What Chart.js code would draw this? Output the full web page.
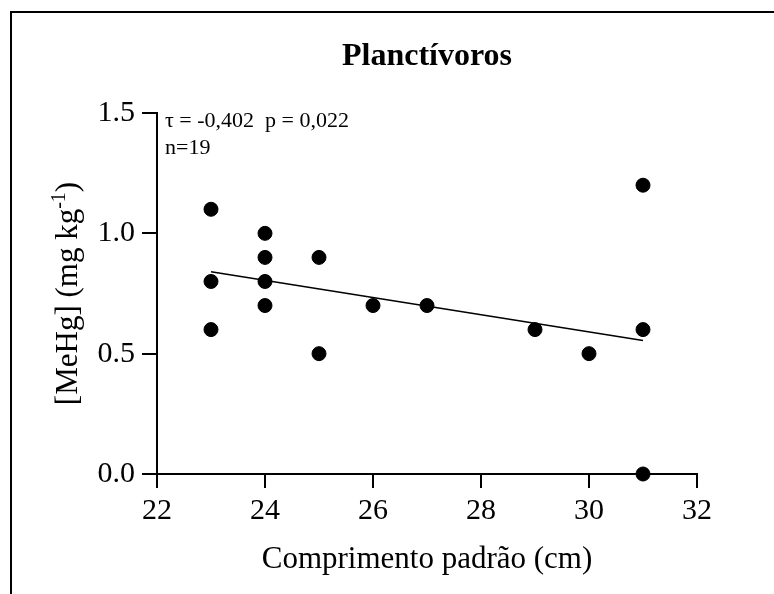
<!DOCTYPE html>
<html>
<head>
<meta charset="utf-8">
<script src="https://cdn.jsdelivr.net/npm/chart.js@4"></script>
<style>
  body { margin: 0; background: #fff; }
  canvas { display: block; }
</style>
</head>
<body>
<canvas id="chart" width="774" height="594"></canvas>
<script>
// Data
const lengthCm = [23, 23, 23, 24, 24, 24, 24, 25, 25, 26, 27, 29, 30, 31, 31, 31];
const mehg = [1.1, 0.8, 0.6, 1.0, 0.9, 0.8, 0.7, 0.9, 0.5, 0.7, 0.7, 0.6, 0.5, 1.2, 0.6, 0.0];
const fitX = [23, 31];
const fitY = [0.84, 0.555];
const xTicks = [22, 24, 26, 28, 30, 32];
const yTicks = [0, 0.5, 1.0, 1.5];

const chartTitle = "Planctívoros";
const statsLine1 = "τ = -0,402  p = 0,022";
const statsLine2 = "n=19";
const xTitle = "Comprimento padrão (cm)";

const serif = "'Liberation Serif', 'Times New Roman', serif";

const points = lengthCm.map((x, i) => ({ x: x, y: mehg[i] }));
const fitLine = fitX.map((x, i) => ({ x: x, y: fitY[i] }));

// frame, title, stats text and axis titles
const decorations = {
  id: "decorations",
  afterDraw(chart) {
    const c = chart.ctx;
    const area = chart.chartArea;
    c.save();
    c.strokeStyle = "#000";
    c.lineWidth = 2;
    c.beginPath();
    c.moveTo(11, 594);
    c.lineTo(11, 12);
    c.lineTo(774, 12);
    c.stroke();

    c.fillStyle = "#000";
    c.textAlign = "center";
    c.textBaseline = "alphabetic";
    c.font = "bold 32px " + serif;
    c.fillText(chartTitle, (area.left + area.right) / 2, 65);

    c.textAlign = "left";
    c.font = "22px " + serif;
    c.fillText(statsLine1, area.left + 8, 127);
    c.fillText(statsLine2, area.left + 8, 154);

    c.textAlign = "center";
    c.font = "31px " + serif;
    c.fillText(xTitle, (area.left + area.right) / 2, 568);

    // y title with superscript
    c.translate(77, (area.top + area.bottom) / 2);
    c.rotate(-Math.PI / 2);
    const main = "[MeHg] (mg kg";
    const sup = "-1";
    const close = ")";
    c.font = "31px " + serif;
    const wMain = c.measureText(main).width;
    const wClose = c.measureText(close).width;
    c.font = "20px " + serif;
    const wSup = c.measureText(sup).width;
    let x = -(wMain + wSup + wClose) / 2;
    c.textAlign = "left";
    c.font = "31px " + serif;
    c.fillText(main, x, 0);
    x += wMain;
    c.font = "20px " + serif;
    c.fillText(sup, x, -12);
    x += wSup;
    c.font = "31px " + serif;
    c.fillText(close, x, 0);
    c.restore();
  }
};

new Chart(document.getElementById("chart").getContext("2d"), {
  type: "scatter",
  data: {
    datasets: [
      {
        data: points,
        backgroundColor: "#000",
        borderColor: "#000",
        pointRadius: 7,
        pointHoverRadius: 7,
        clip: false
      },
      {
        type: "line",
        data: fitLine,
        borderColor: "#000",
        borderWidth: 1.5,
        pointRadius: 0,
        fill: false,
        clip: false
      }
    ]
  },
  options: {
    responsive: false,
    animation: false,
    events: [],
    layout: { padding: { left: 0, top: 113, right: 77, bottom: 0 } },
    plugins: {
      legend: { display: false },
      tooltip: { enabled: false },
      title: { display: false }
    },
    scales: {
      x: {
        type: "linear",
        min: 22,
        max: 32,
        afterBuildTicks: s => { s.ticks = xTicks.map(v => ({ value: v })); },
        afterFit: s => { s.height = 120; },
        ticks: { color: "#000", font: { family: serif, size: 30 }, padding: 5 },
        grid: { drawOnChartArea: false, drawTicks: true, tickLength: 14, color: "#000", lineWidth: 2 },
        border: { display: true, color: "#000", width: 2 }
      },
      y: {
        min: 0,
        max: 1.5,
        afterBuildTicks: s => { s.ticks = yTicks.map(v => ({ value: v })); },
        afterFit: s => { s.width = 157; },
        ticks: {
          color: "#000",
          font: { family: serif, size: 30 },
          padding: 7,
          callback: v => v.toFixed(1)
        },
        grid: { drawOnChartArea: false, drawTicks: true, tickLength: 15, color: "#000", lineWidth: 2 },
        border: { display: true, color: "#000", width: 2 }
      }
    }
  },
  plugins: [decorations]
});
</script>
</body>
</html>
